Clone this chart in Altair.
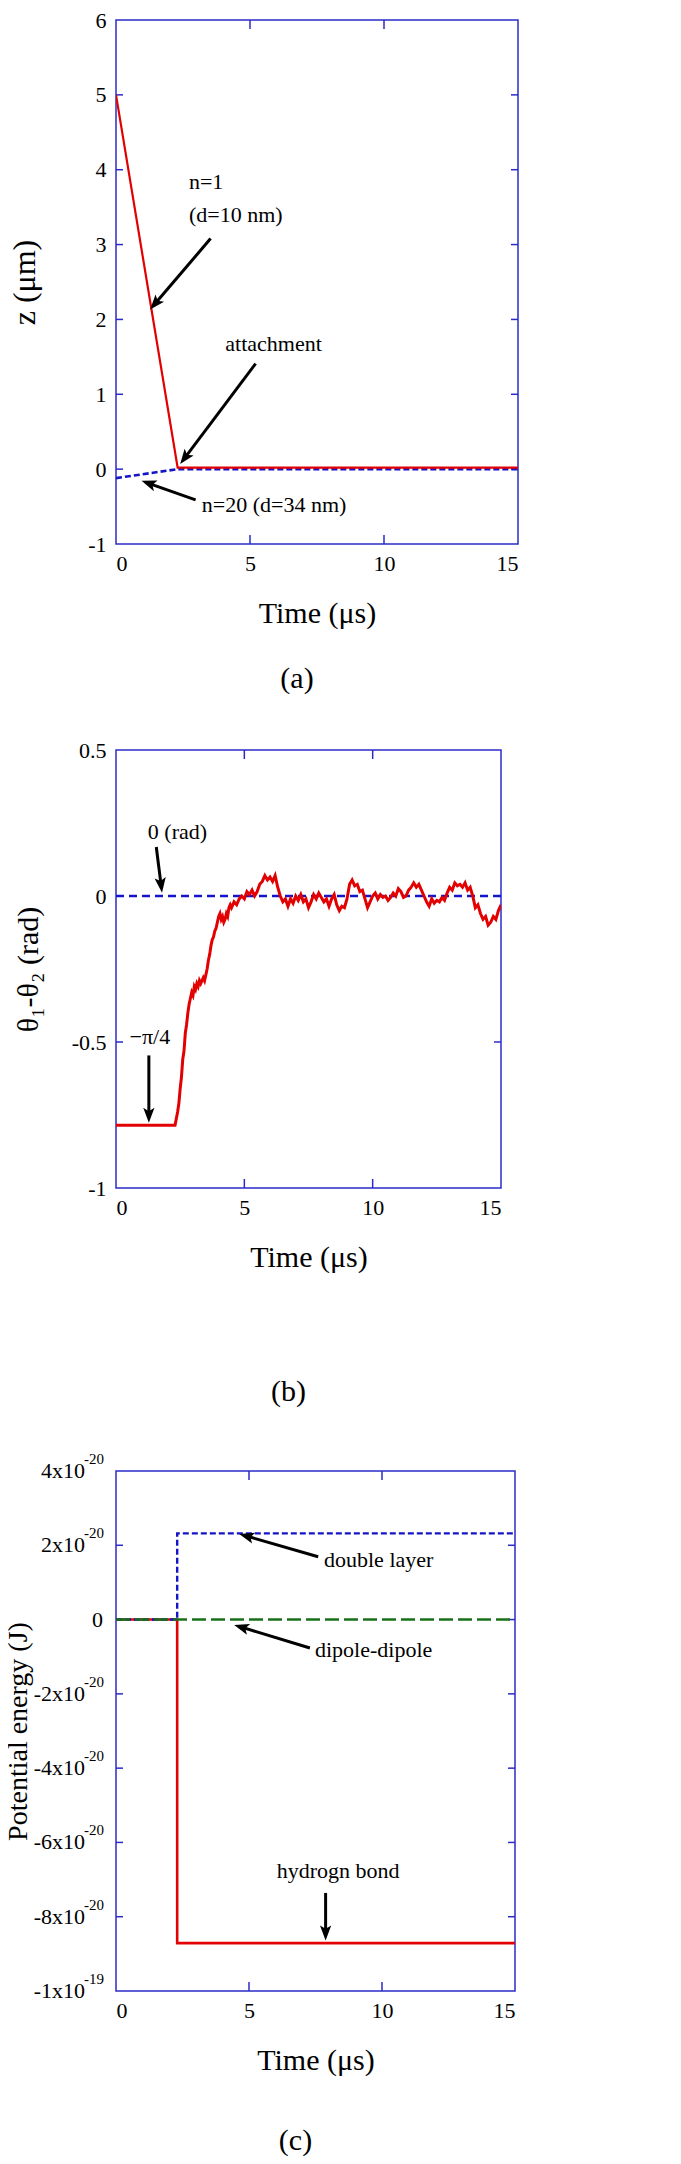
import math
import altair as alt
import pandas as pd

FONT = "Liberation Serif"
FRAME = "#2b2bc9"
RED = "#e20000"
BLUE = "#1515c8"
GREEN = "#187018"
T_DOM = [0, 15]
X_LABELS = [0, 5, 10, 15]
X_INNER = [5, 10]

# ---------------- panel (a) ----------------
a_red_t = [0.0, 2.3, 15.0]
a_red_z = [5.0, 0.02, 0.02]
a_blue_t = [0.0, 2.3, 15.0]
a_blue_z = [-0.12, 0.0, 0.0]
a_ylabels = [-1, 0, 1, 2, 3, 4, 5, 6]
a_yinner = [0, 1, 2, 3, 4, 5]
a_text = ["n=1", "(d=10 nm)", "attachment", "n=20 (d=34 nm)"]
a_text_t = [2.72, 2.72, 4.08, 3.20]
a_text_z = [3.83, 3.39, 1.67, -0.48]
a_arr_t0 = [3.53, 5.21, 2.97]
a_arr_z0 = [3.08, 1.41, -0.41]
a_arr_t1 = [1.29, 2.41, 0.98]
a_arr_z1 = [2.14, 0.076, -0.16]

# ---------------- panel (b) ----------------
b_red_t = [0.0, 2.3, 2.4, 2.45, 2.5, 2.55, 2.6, 2.65, 2.7, 2.75, 2.8, 2.85, 2.9, 2.95,
           3.0, 3.05, 3.1, 3.15, 3.2, 3.25, 3.3, 3.35, 3.4, 3.45, 3.5, 3.55, 3.6, 3.65,
           3.7, 3.75, 3.8, 3.85, 3.9, 3.95, 4.0, 4.05, 4.1, 4.15, 4.2, 4.25, 4.3, 4.35,
           4.4, 4.45, 4.5, 4.6, 4.7, 4.8, 4.9, 5.0, 5.1, 5.2, 5.3, 5.4, 5.5, 5.6, 5.7,
           5.8, 5.9, 6.0, 6.1, 6.2, 6.3, 6.4, 6.5, 6.6, 6.7, 6.8, 6.9, 7.0, 7.1, 7.2,
           7.3, 7.4, 7.5, 7.6, 7.7, 7.8, 7.9, 8.0, 8.1, 8.2, 8.3, 8.4, 8.5, 8.6, 8.7,
           8.8, 8.9, 9.0, 9.1, 9.2, 9.3, 9.4, 9.5, 9.6, 9.7, 9.8, 9.9, 10.0, 10.1, 10.2,
           10.3, 10.4, 10.5, 10.6, 10.7, 10.8, 10.9, 11.0, 11.1, 11.2, 11.3, 11.4, 11.5,
           11.6, 11.7, 11.8, 11.9, 12.0, 12.1, 12.2, 12.3, 12.4, 12.5, 12.6, 12.7, 12.8,
           12.9, 13.0, 13.1, 13.2, 13.3, 13.4, 13.5, 13.6, 13.7, 13.8, 13.9, 14.0, 14.1,
           14.2, 14.3, 14.4, 14.5, 14.6, 14.7, 14.8, 14.9, 15.0]
b_red_v = [-0.785, -0.785, -0.74, -0.71, -0.66, -0.62, -0.56, -0.53, -0.47, -0.44, -0.40,
           -0.37, -0.35, -0.33, -0.34, -0.31, -0.32, -0.30, -0.31, -0.29, -0.30, -0.29,
           -0.28, -0.29, -0.27, -0.25, -0.22, -0.20, -0.17, -0.15, -0.14, -0.12, -0.11,
           -0.09, -0.07, -0.06, -0.08, -0.07, -0.09, -0.08, -0.06, -0.07, -0.04, -0.03,
           -0.04, -0.02, -0.03, -0.01, 0.0, -0.01, 0.015, 0.005, 0.02, 0.0, 0.015, 0.04,
           0.05, 0.07, 0.055, 0.065, 0.05, 0.07, 0.03, 0.0, -0.02, -0.01, -0.035, -0.01,
           -0.025, 0.0, -0.015, 0.005, -0.02, -0.01, -0.04, -0.02, 0.005, -0.01, 0.01,
           -0.005, -0.02, -0.01, -0.035, -0.01, 0.005, -0.03, -0.05, -0.035, -0.04, -0.01,
           0.04, 0.055, 0.035, 0.04, 0.015, 0.02, -0.01, -0.04, -0.02, 0.0, 0.01, -0.01,
           0.005, -0.005, 0.0, -0.015, -0.005, 0.01, 0.0, 0.025, 0.015, -0.005, 0.0, 0.02,
           0.03, 0.045, 0.03, 0.04, 0.02, 0.0, -0.02, -0.035, -0.01, -0.025, -0.015, -0.02,
           -0.005, -0.015, 0.01, 0.03, 0.02, 0.045, 0.035, 0.04, 0.03, 0.045, 0.02, 0.03,
           0.0, -0.04, -0.03, -0.06, -0.08, -0.07, -0.10, -0.09, -0.07, -0.08, -0.05, -0.03]
b_blue_t = [0.0, 15.0]
b_blue_v = [0.0, 0.0]
b_ylabels = [-1, -0.5, 0, 0.5]
b_yinner = [-0.5, 0]
b_text = ["0 (rad)", "\u2212\u03c0/4"]
b_text_t = [1.24, 0.53]
b_text_v = [0.219, -0.483]
b_arr_t0 = [1.57, 1.28]
b_arr_v0 = [0.168, -0.546]
b_arr_t1 = [1.79, 1.28]
b_arr_v1 = [0.014, -0.774]

# ---------------- panel (c) ----------------
c_red_t = [0.0, 2.3, 2.3, 15.0]
c_red_e = [0.0, 0.0, -8.71e-20, -8.71e-20]
c_blue_t = [0.0, 2.3, 2.3, 15.0]
c_blue_e = [0.0, 0.0, 2.32e-20, 2.32e-20]
c_green_t = [0.0, 15.0]
c_green_e = [0.0, 0.0]
c_yvals = [4e-20, 2e-20, 0.0, -2e-20, -4e-20, -6e-20, -8e-20, -1e-19]
c_ybase = ["4x10", "2x10", "0", "-2x10", "-4x10", "-6x10", "-8x10", "-1x10"]
c_yexp = ["-20", "-20", "", "-20", "-20", "-20", "-20", "-19"]
c_yinner = [2e-20, 0.0, -2e-20, -4e-20, -6e-20, -8e-20]
c_text = ["double layer", "dipole-dipole", "hydrogn bond"]
c_text_t = [7.82, 7.48, 6.04]
c_text_e = [1.6e-20, -0.81e-20, -6.77e-20]
c_arr_t0 = [7.6, 7.29, 7.88]
c_arr_e0 = [1.69e-20, -0.765e-20, -7.36e-20]
c_arr_t1 = [4.66, 4.47, 7.88]
c_arr_e1 = [2.3e-20, -0.15e-20, -8.62e-20]

HEAD = "M0,-1L0.75,1L0,0.55L-0.75,1Z"
HEAD_PX = 15


def enc_x():
    return alt.X("t:Q", scale=alt.Scale(domain=T_DOM, nice=False, zero=False),
                 axis=alt.Axis(values=X_LABELS, title="Time (\u03bcs)", format="d",
                               labelPadding=9, titlePadding=24))


def make_y(ydom, labels, title, tpad, show_labels=True, tsize=32):
    def enc_y():
        return alt.Y("v:Q", scale=alt.Scale(domain=ydom, nice=False, zero=False),
                     axis=alt.Axis(values=labels, title=title, labels=show_labels,
                                   titlePadding=tpad, titleFontSize=tsize, format=".1~f",
                                   labelExpr="replace(datum.label, '\u2212', '-')"))
    return enc_y


def line_layer(ts, vs, enc_y, color, width, dash=None):
    df = pd.DataFrame({"t": ts, "v": vs, "i": list(range(len(ts)))})
    kw = dict(color=color, strokeWidth=width, clip=True)
    if dash:
        kw["strokeDash"] = dash
    return alt.Chart(df).mark_line(**kw).encode(x=enc_x(), y=enc_y(), order="i:Q")


def tick_layers(W, H, yinner, enc_y):
    dy = pd.DataFrame({"v": yinner})
    dx = pd.DataFrame({"t": X_INNER})
    kw = dict(color=FRAME, strokeWidth=1.5)
    return [
        alt.Chart(dy).mark_rule(**kw).encode(y=enc_y(), x=alt.value(0), x2=alt.value(7)),
        alt.Chart(dy).mark_rule(**kw).encode(y=enc_y(), x=alt.value(W - 7), x2=alt.value(W)),
        alt.Chart(dx).mark_rule(**kw).encode(x=enc_x(), y=alt.value(0), y2=alt.value(9)),
        alt.Chart(dx).mark_rule(**kw).encode(x=enc_x(), y=alt.value(H - 9), y2=alt.value(H)),
    ]


def arrow_layers(W, H, ydom, enc_y, t0, v0, t1, v1):
    sx = W / (T_DOM[1] - T_DOM[0])
    sy = H / (ydom[1] - ydom[0])
    rows_s, rows_h = [], []
    for a, b, c, d in zip(t0, v0, t1, v1):
        dxp = (c - a) * sx
        dyp = -(d - b) * sy
        L = math.hypot(dxp, dyp)
        ux, uy = dxp / L, dyp / L
        back = HEAD_PX * 0.45
        ct = c - back * ux / sx
        cv = d + back * uy / sy
        ang = math.degrees(math.atan2(ux, -uy)) % 360
        rows_s.append({"t": a, "v": b, "t2": ct, "v2": cv})
        rows_h.append({"t": ct, "v": cv, "ang": ang})
    shaft = alt.Chart(pd.DataFrame(rows_s)).mark_rule(color="black", strokeWidth=3).encode(
        x=enc_x(), y=enc_y(), x2="t2:Q", y2="v2:Q")
    head = alt.Chart(pd.DataFrame(rows_h)).mark_point(
        shape=HEAD, filled=True, color="black", opacity=1, size=HEAD_PX ** 2).encode(
        x=enc_x(), y=enc_y(), angle=alt.Angle("ang:Q", scale=None))
    return [shaft, head]


def text_layer(texts, ts, vs, enc_y, align="left"):
    df = pd.DataFrame({"t": ts, "v": vs, "s": texts})
    return alt.Chart(df).mark_text(font=FONT, fontSize=22, align=align, baseline="middle",
                                   color="black").encode(x=enc_x(), y=enc_y(), text="s:N")


def letter_title(s, offset):
    return alt.TitleParams(s, orient="bottom", font=FONT, fontSize=30, fontWeight="normal",
                           color="black", offset=offset, anchor="middle", frame="group", dx=-20)


# ---- build (a)
WA, HA, YA = 402, 524, [-1, 6]
ya = make_y(YA, a_ylabels, "z (\u03bcm)", 46)
layers_a = tick_layers(WA, HA, a_yinner, ya) + [
    line_layer(a_blue_t, a_blue_z, ya, BLUE, 2.6, [6, 3]),
    line_layer(a_red_t, a_red_z, ya, RED, 2.2),
    text_layer(a_text, a_text_t, a_text_z, ya),
] + arrow_layers(WA, HA, YA, ya, a_arr_t0, a_arr_z0, a_arr_t1, a_arr_z1)
chart_a = alt.layer(*layers_a).properties(width=WA, height=HA, title=letter_title("(a)", 36))

# ---- build (b)
WB, HB, YB = 385, 438, [-1, 0.5]
yb = make_y(YB, b_ylabels, "\u03b8\u2081-\u03b8\u2082 (rad)", 28, tsize=30)
layers_b = tick_layers(WB, HB, b_yinner, yb) + [
    line_layer(b_blue_t, b_blue_v, yb, BLUE, 2.6, [8, 5]),
    line_layer(b_red_t, b_red_v, yb, RED, 3.0),
    text_layer(b_text, b_text_t, b_text_v, yb),
] + arrow_layers(WB, HB, YB, yb, b_arr_t0, b_arr_v0, b_arr_t1, b_arr_v1)
chart_b = alt.layer(*layers_b).properties(width=WB, height=HB, title=letter_title("(b)", 105))

# ---- build (c)
WC, HC, YC = 399, 520, [-1e-19, 4e-20]
yc = make_y(YC, c_yvals, "Potential energy (J)", 84, show_labels=False, tsize=28)
lab_df = pd.DataFrame({"v": c_yvals, "b": c_ybase, "e": c_yexp})
lab_base = alt.Chart(lab_df).transform_filter("datum.e != ''").mark_text(
    font=FONT, fontSize=22, align="right", baseline="middle", color="black").encode(
    y=yc(), x=alt.value(-31), text="b:N")
lab_zero = alt.Chart(lab_df).transform_filter("datum.e == ''").mark_text(
    font=FONT, fontSize=22, align="right", baseline="middle", color="black").encode(
    y=yc(), x=alt.value(-13), text="b:N")
lab_exp = alt.Chart(lab_df).transform_filter("datum.e != ''").mark_text(
    font=FONT, fontSize=15, align="right", baseline="middle", color="black", dy=-12).encode(
    y=yc(), x=alt.value(-12), text="e:N")
layers_c = tick_layers(WC, HC, c_yinner, yc) + [
    line_layer(c_red_t, c_red_e, yc, RED, 2.6),
    line_layer(c_blue_t, c_blue_e, yc, BLUE, 2.4, [6, 3]),
    line_layer(c_green_t, c_green_e, yc, GREEN, 2.4, [14, 5]),
    text_layer(c_text, c_text_t, c_text_e, yc),
    lab_base, lab_zero, lab_exp,
] + arrow_layers(WC, HC, YC, yc, c_arr_t0, c_arr_e0, c_arr_t1, c_arr_e1)
chart_c = alt.layer(*layers_c).properties(width=WC, height=HC, title=letter_title("(c)", 51))

chart = alt.vconcat(chart_a, chart_b, chart_c, spacing=43).properties(
    padding={"left": -5, "top": 0, "right": 0, "bottom": 0}, background="white"
).configure_view(stroke=FRAME, strokeWidth=1.5).configure_axis(
    labelFont=FONT, labelFontSize=22, labelColor="black",
    titleFont=FONT, titleFontSize=30, titleFontWeight="normal", titleColor="black",
    domain=False, ticks=False, tickSize=0, grid=False, labelPadding=10
)

chart.save("out.html", embed_options={"renderer": "svg", "actions": False})
